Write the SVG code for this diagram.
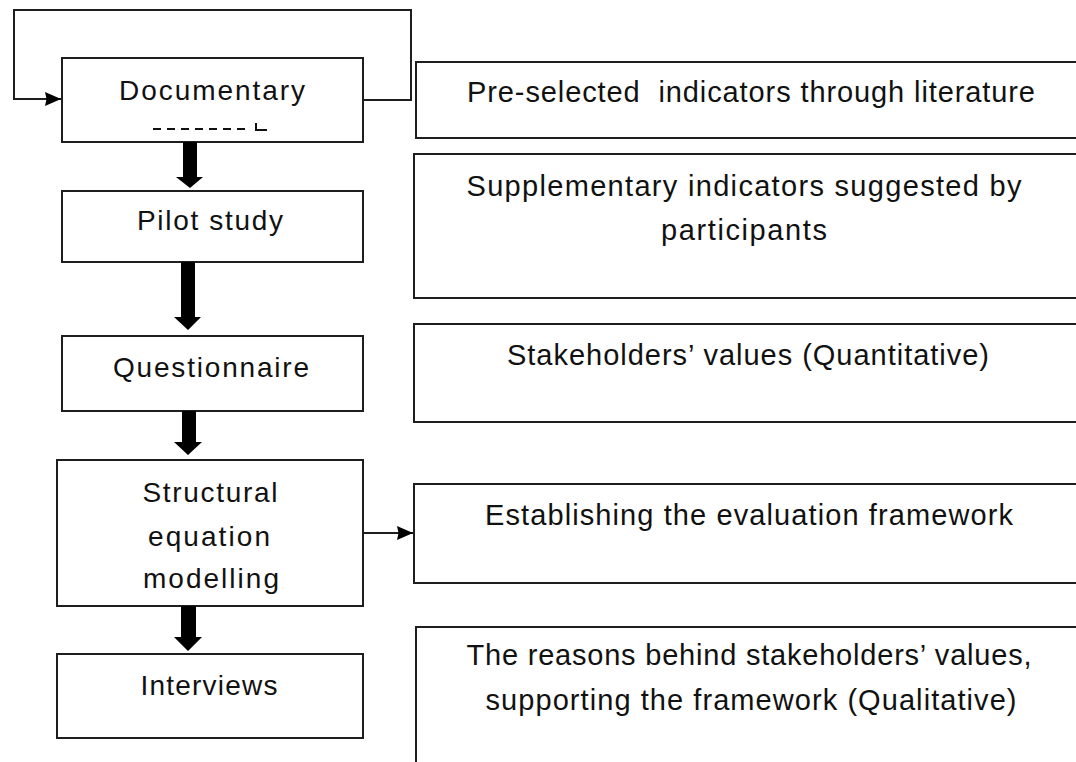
<svg xmlns="http://www.w3.org/2000/svg" width="1076" height="762" viewBox="0 0 1076 762">
  <style>
    .box { fill: #ffffff; stroke: #1e1e1e; stroke-width: 2; }
    .step { font-family: "Liberation Sans", Arial, sans-serif; font-size: 28px; fill: #111111; text-anchor: middle; }
    .note { font-family: "Liberation Sans", Arial, sans-serif; font-size: 29px; fill: #111111; text-anchor: middle; }
    .thin { fill: none; stroke: #1e1e1e; stroke-width: 2; }
    .block { fill: #000000; stroke: none; }
  </style>
  <defs>
    <marker id="head" viewBox="0 0 16 14" markerUnits="userSpaceOnUse" markerWidth="16" markerHeight="14" refX="16" refY="7" orient="auto">
      <path d="M0,0 L16,7 L0,14 L1.5,7 z" fill="#000000"/>
    </marker>
  </defs>
  <rect width="1076" height="762" fill="#ffffff"/>

  <!-- process steps (left column) -->
  <g id="documentary">
    <rect class="box" x="62" y="58" width="301" height="84"/>
    <text class="step" x="212" y="100" textLength="186">Documentary</text>
    <path d="M153,129 H250" stroke="#111111" stroke-width="2" stroke-dasharray="8 6" fill="none"/>
    <path d="M256,123 V130 H267" stroke="#111111" stroke-width="2" fill="none"/>
  </g>
  <g id="pilot-study">
    <rect class="box" x="62" y="191" width="301" height="71"/>
    <text class="step" x="210" y="230" textLength="146">Pilot study</text>
  </g>
  <g id="questionnaire">
    <rect class="box" x="62" y="336" width="301" height="75"/>
    <text class="step" x="211" y="377" textLength="196">Questionnaire</text>
  </g>
  <g id="sem">
    <rect class="box" x="57" y="460" width="306" height="146"/>
    <text class="step" x="210" y="502" textLength="135">Structural</text>
    <text class="step" x="209" y="546" textLength="122">equation</text>
    <text class="step" x="211" y="588" textLength="136">modelling</text>
  </g>
  <g id="interviews">
    <rect class="box" x="57" y="654" width="306" height="84"/>
    <text class="step" x="209" y="695" textLength="137">Interviews</text>
  </g>

  <!-- outcomes (right column) -->
  <g id="pre-selected">
    <rect class="box" x="416" y="62" width="680" height="76"/>
    <text class="note" x="751" y="102" textLength="568" xml:space="preserve">Pre-selected  indicators through literature</text>
  </g>
  <g id="supplementary">
    <rect class="box" x="414" y="154" width="680" height="144"/>
    <text class="note" x="744" y="196" textLength="555">Supplementary indicators suggested by</text>
    <text class="note" x="744" y="240" textLength="166">participants</text>
  </g>
  <g id="stakeholders-values">
    <rect class="box" x="414" y="324" width="680" height="98"/>
    <text class="note" x="748" y="365" textLength="482">Stakeholders’ values (Quantitative)</text>
  </g>
  <g id="evaluation-framework">
    <rect class="box" x="414" y="484" width="680" height="99"/>
    <text class="note" x="749" y="525" textLength="528">Establishing the evaluation framework</text>
  </g>
  <g id="reasons">
    <rect class="box" x="416" y="627" width="680" height="160"/>
    <text class="note" x="749" y="665" textLength="565">The reasons behind stakeholders’ values,</text>
    <text class="note" x="751" y="710" textLength="531">supporting the framework (Qualitative)</text>
  </g>

  <!-- connectors -->
  <g id="connectors">
    <path class="thin" d="M363,100 H411 V10 H14 V99 H61" marker-end="url(#head)"/>
    <path class="thin" d="M363,533 H413" marker-end="url(#head)"/>
    <polygon class="block" points="183,142 197,142 197,177 203,177 190,188 176,177 183,177"/>
    <polygon class="block" points="181,262 195,262 195,317 201,317 188,330 174,317 181,317"/>
    <polygon class="block" points="182,411 196,411 196,442 202,442 188,455 174,442 182,442"/>
    <polygon class="block" points="181,606 196,606 196,637 202,637 188,651 174,637 181,637"/>
  </g>
</svg>
